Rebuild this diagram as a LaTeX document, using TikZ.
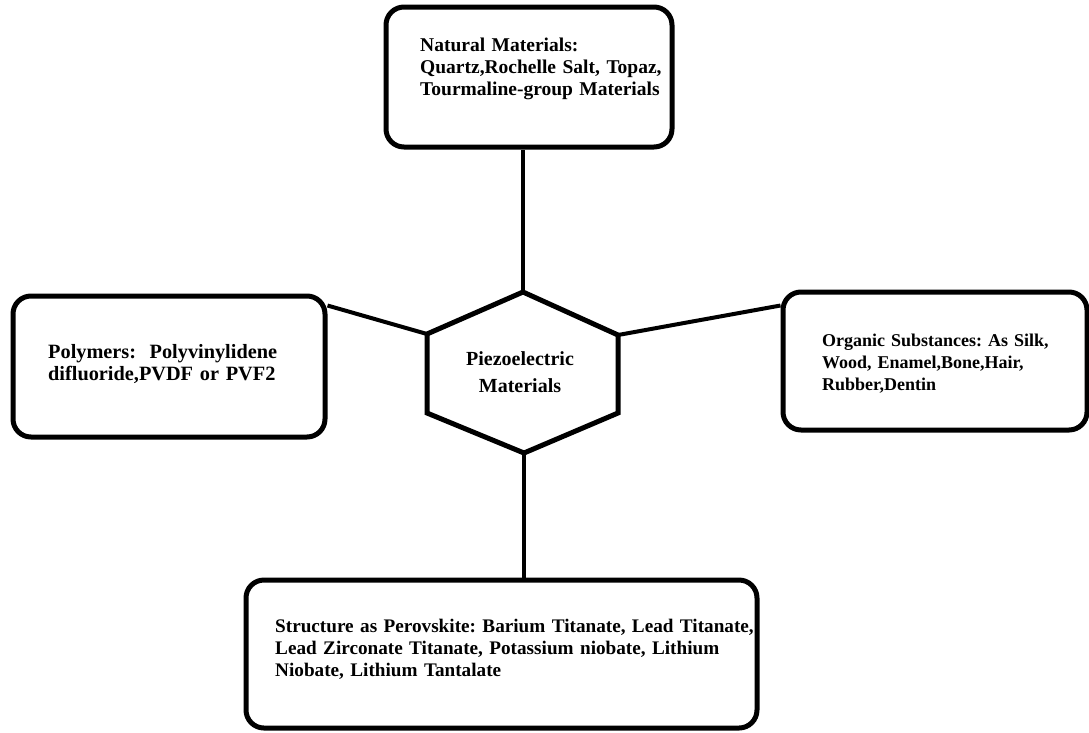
\documentclass[tikz,border=0pt]{standalone}
\usepackage{fontspec}
\setmainfont{Liberation Serif}
\frenchspacing
\usetikzlibrary{calc}
\tikzset{
  boxshape/.style={draw=black, line width=5pt, rounded corners=18pt, fill=white, inner sep=0pt},
  boxtext/.style 2 args={anchor=base west, inner sep=0pt, align=left, text width=#1,
    font={\bfseries\fontsize{#2}{22}\selectfont\frenchspacing}},
  hexline/.style={draw=black, line width=5pt, line join=miter},
  conn/.style={draw=black, line width=4pt},
  hextext/.style={anchor=base, inner sep=0pt, align=center, text width=160pt,
    font={\bfseries\fontsize{20}{27}\selectfont}}
}
\begin{document}
\begin{tikzpicture}[x=1pt,y=-1pt]
\useasboundingbox (0,0) rectangle (1089,732);
\fill[white] (0,0) rectangle (1089,732);

% hexagon vertices
\coordinate (T) at (523,292);
\coordinate (UR) at (618,335);
\coordinate (LR) at (618,413);
\coordinate (B) at (524,453);
\coordinate (LL) at (427,413);
\coordinate (UL) at (427,334);

% boxes
\node[boxshape, minimum width=286pt, minimum height=140pt] (tbox) at (529,77) {};
\node[boxshape, minimum width=312pt, minimum height=141pt] (lbox) at (169,366.5) {};
\node[boxshape, minimum width=304pt, minimum height=138pt] (rbox) at (935,361) {};
\node[boxshape, minimum width=511pt, minimum height=148pt] (bbox) at (501.5,654) {};

% connectors
\draw[conn] (T) -- (T |- tbox.south);
\draw[conn] (B) -- (B |- bbox.north);
\draw[conn] (UL) -- ($(lbox.north east)+(0,12)$);
\draw[conn] (UR) -- ($(rbox.north west)+(0,16)$);

% hexagon
\draw[hexline, fill=white] (T) -- (UR) -- (LR) -- (B) -- (LL) -- (UL) -- cycle;

% texts
\node[boxtext={270pt}{19.5}] (ttext) at (420,51) {Natural Materials:\\Quartz,Rochelle Salt, Topaz,\\Tourmaline-group Materials};
\node[boxtext={280pt}{20.3}] (ltext) at (48,358) {Polymers:\ \ Polyvinylidene\\difluoride,PVDF or PVF2};
\node[boxtext={265pt}{18.0}] (rtext) at (822,346) {Organic Substances: As Silk,\\Wood, Enamel,Bone,Hair,\\Rubber,Dentin};
\node[boxtext={500pt}{19.2}] (btext) at (275,632) {Structure as Perovskite: Barium Titanate, Lead Titanate,\\Lead Zirconate Titanate, Potassium niobate, Lithium\\Niobate, Lithium Tantalate};
\node[hextext] (hexlabel) at (520,365) {Piezoelectric\\Materials};
\end{tikzpicture}
\end{document}
